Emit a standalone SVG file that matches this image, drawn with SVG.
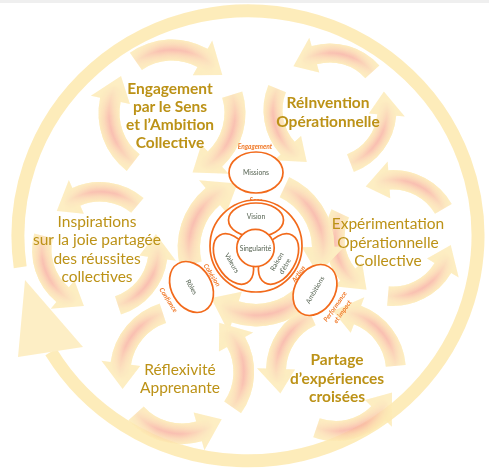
<svg xmlns="http://www.w3.org/2000/svg" xmlns:xlink="http://www.w3.org/1999/xlink" width="489" height="468" viewBox="0 0 489 468">
<style>
.t{font-family:Lato,"Open Sans",sans-serif;font-size:15.5px;fill:#bc9217;text-anchor:middle}
.b{font-weight:700}
.n{font-family:Lato,"Open Sans",sans-serif;font-size:6.8px;fill:#566352;text-anchor:middle}
.l{font-family:Lato,"Open Sans",sans-serif;font-size:6.6px;font-weight:700;font-style:italic;fill:#f07a2a;text-anchor:middle}
.o{fill:#fff;stroke:#f26a1b;stroke-width:1.7}
</style>
<defs>
<path id="arrShape" d="M -48.63,-50.35 A 70 70 0 0 1 23.94,-65.78 L 27.02,-74.24 L 41.68,-43.16 L 14.02,-38.53 L 17.10,-46.98 A 50 50 0 0 0 -34.73,-35.97 Z"/>
<radialGradient id="gRing" gradientUnits="userSpaceOnUse" cx="0" cy="0" r="79">
<stop offset="0" stop-color="#fde9b0"/>
<stop offset="0.63" stop-color="#fde9b0"/>
<stop offset="0.70" stop-color="#fbd0aa"/>
<stop offset="0.76" stop-color="#f8b0a0"/>
<stop offset="0.82" stop-color="#fbd0aa"/>
<stop offset="0.89" stop-color="#fde9b0"/>
<stop offset="1" stop-color="#fde9b0"/>
</radialGradient>
<radialGradient id="gBlob" gradientUnits="userSpaceOnUse" cx="-8.35" cy="-59.42" r="44">
<stop offset="0" stop-color="#fff"/>
<stop offset="0.3" stop-color="#ececec"/>
<stop offset="1" stop-color="#000"/>
</radialGradient>
<mask id="mBlob" maskUnits="userSpaceOnUse" x="-100" y="-100" width="200" height="200">
<rect x="-100" y="-100" width="200" height="200" fill="url(#gBlob)"/>
</mask>
<g id="arr">
<use href="#arrShape" fill="#fdebb6"/>
<use href="#arrShape" fill="url(#gRing)" mask="url(#mBlob)"/>
</g>
</defs>
<rect width="489" height="468" fill="#fff"/>
<rect width="489" height="3" fill="#efefef"/>

<g id="cycle-ring" opacity="0.75">
<path d="M 20.2 267.3 A 230 225 0 1 1 50.9 351.9" fill="none" stroke="#fde6a4" stroke-width="13"/>
<polygon points="25,280 83,347 18,357" fill="#fde9b2"/>
</g>

<g id="connectors" opacity="0.82">
<!-- Engagement group (clockwise) -->
<use href="#arr" transform="translate(172,113) rotate(9) scale(1.05)"/>
<use href="#arr" transform="translate(172,113) rotate(117) scale(1.05)"/>
<use href="#arr" transform="translate(172,113) rotate(262) scale(1.05)"/>
<!-- ReInvention group -->
<use href="#arr" transform="translate(330,110) rotate(4) scale(-0.95,0.95)"/>
<use href="#arr" transform="translate(330,110) rotate(248) scale(-0.95,0.95)"/>
<use href="#arr" transform="translate(330,110) rotate(115) scale(-0.95,0.95)"/>
<!-- Experimentation group -->
<use href="#arr" transform="translate(393,238) rotate(16) scale(-0.97,0.97)"/>
<use href="#arr" transform="translate(393,238) rotate(251) scale(-0.97,0.97)"/>
<use href="#arr" transform="translate(393,238) rotate(141) scale(-0.97,0.97)"/>
<!-- Partage group -->
<use href="#arr" transform="translate(336,371) rotate(41) scale(-1,1)"/>
<use href="#arr" transform="translate(336,371) rotate(292) scale(-1,1)"/>
<use href="#arr" transform="translate(336,371) rotate(155) scale(-1,1)"/>
<!-- Reflexivite group -->
<use href="#arr" transform="translate(182,372) rotate(298) scale(-1.03,1.03)"/>
<use href="#arr" transform="translate(182,372) rotate(184) scale(-1.03,1.03)"/>
<use href="#arr" transform="translate(182,372) rotate(81) scale(-1.03,1.03)"/>
<!-- Inspirations group -->
<use href="#arr" transform="translate(100,250) rotate(-4) scale(-0.97,0.97)"/>
<use href="#arr" transform="translate(100,250) rotate(240) scale(-0.97,0.97)"/>
<use href="#arr" transform="translate(100,250) rotate(118) scale(-0.97,0.97)"/>
<!-- centre group (clockwise) -->
<use href="#arr" transform="translate(256,248) rotate(300) scale(1.12)"/>
<use href="#arr" transform="translate(256,248) rotate(69) scale(1.12)"/>
<use href="#arr" transform="translate(256,248) rotate(178) scale(1.12)"/>
</g>

<text class="l" x="256" y="203">Sens</text>

<g id="core">
<circle class="o" cx="256" cy="246" r="46"/>
</g>
<g id="vision">
<ellipse class="o" cx="256" cy="220" rx="27.5" ry="17"/>
<text class="n" x="256" y="219">Vision</text>
</g>
<g id="valeurs">
<ellipse class="o" cx="256" cy="220" rx="27.5" ry="17" transform="rotate(-120 256 246)"/>
<text class="n" transform="translate(232,263) rotate(60)" x="0" y="2.3">Valeurs</text>
</g>
<g id="raison-etre">
<ellipse class="o" cx="256" cy="220" rx="27.5" ry="17" transform="rotate(120 256 246)"/>
<text class="n" transform="translate(281,264) rotate(-60)"><tspan x="0" y="-2.4">Raison</tspan><tspan x="0" y="6.8">d’être</tspan></text>
</g>
<g id="singularite">
<circle class="o" cx="255.5" cy="248" r="18.7"/>
<text class="n" x="255.5" y="251">Singularité</text>
</g>
<g id="missions">
<ellipse class="o" cx="256" cy="172.5" rx="27" ry="20.5"/>
<text class="n" x="256" y="175">Missions</text>
</g>
<g id="roles">
<ellipse class="o" cx="191.5" cy="287" rx="27" ry="20" transform="rotate(60 191.5 287)"/>
<text class="n" transform="translate(191.5,287) rotate(60)" x="0" y="2.3">Rôles</text>
</g>
<g id="ambitions">
<ellipse class="o" cx="315" cy="290" rx="27" ry="20" transform="rotate(-60 315 290)"/>
<text class="n" transform="translate(315,290) rotate(-60)" x="0" y="2.3">Ambitions</text>
</g>

<g id="labels">
<text class="l" x="255" y="148.5">Engagement</text>
<text class="l" transform="translate(212,275) rotate(58)" x="0" y="2.3">Cohésion</text>
<text class="l" transform="translate(168.5,300) rotate(57)" x="0" y="2.3">Confiance</text>
<text class="l" transform="translate(298.5,274) rotate(-55)" x="0" y="2.3">Action</text>
<text class="l" transform="translate(338.8,309.1) rotate(-55)"><tspan x="0" y="-2.2">Performance</tspan><tspan x="0" y="6.7">et impact</tspan></text>
</g>

<g id="engagement">
<text class="t b" x="170" y="94">Engagement</text>
<text class="t b" x="170" y="112">par le Sens</text>
<text class="t b" x="170" y="130">et l’Ambition</text>
<text class="t b" x="170" y="148">Collective</text>
</g>
<g id="reinvention">
<text class="t b" x="328" y="108">RéInvention</text>
<text class="t b" x="328" y="126.5">Opérationnelle</text>
</g>
<g id="experimentation">
<text class="t" x="388" y="229">Expérimentation</text>
<text class="t" x="388" y="247.5">Opérationnelle</text>
<text class="t" x="388" y="265.5">Collective</text>
</g>
<g id="partage">
<text class="t b" x="337" y="365">Partage</text>
<text class="t b" x="337" y="383.5">d’expériences</text>
<text class="t b" x="337" y="402">croisées</text>
</g>
<g id="reflexivite">
<text class="t" x="180" y="375">Réflexivité</text>
<text class="t" x="180" y="393">Apprenante</text>
</g>
<g id="inspirations">
<text class="t" x="97" y="227">Inspirations</text>
<text class="t" x="97" y="245">sur la joie partagée</text>
<text class="t" x="97" y="263.5">des réussites</text>
<text class="t" x="97" y="282">collectives</text>
</g>
</svg>
